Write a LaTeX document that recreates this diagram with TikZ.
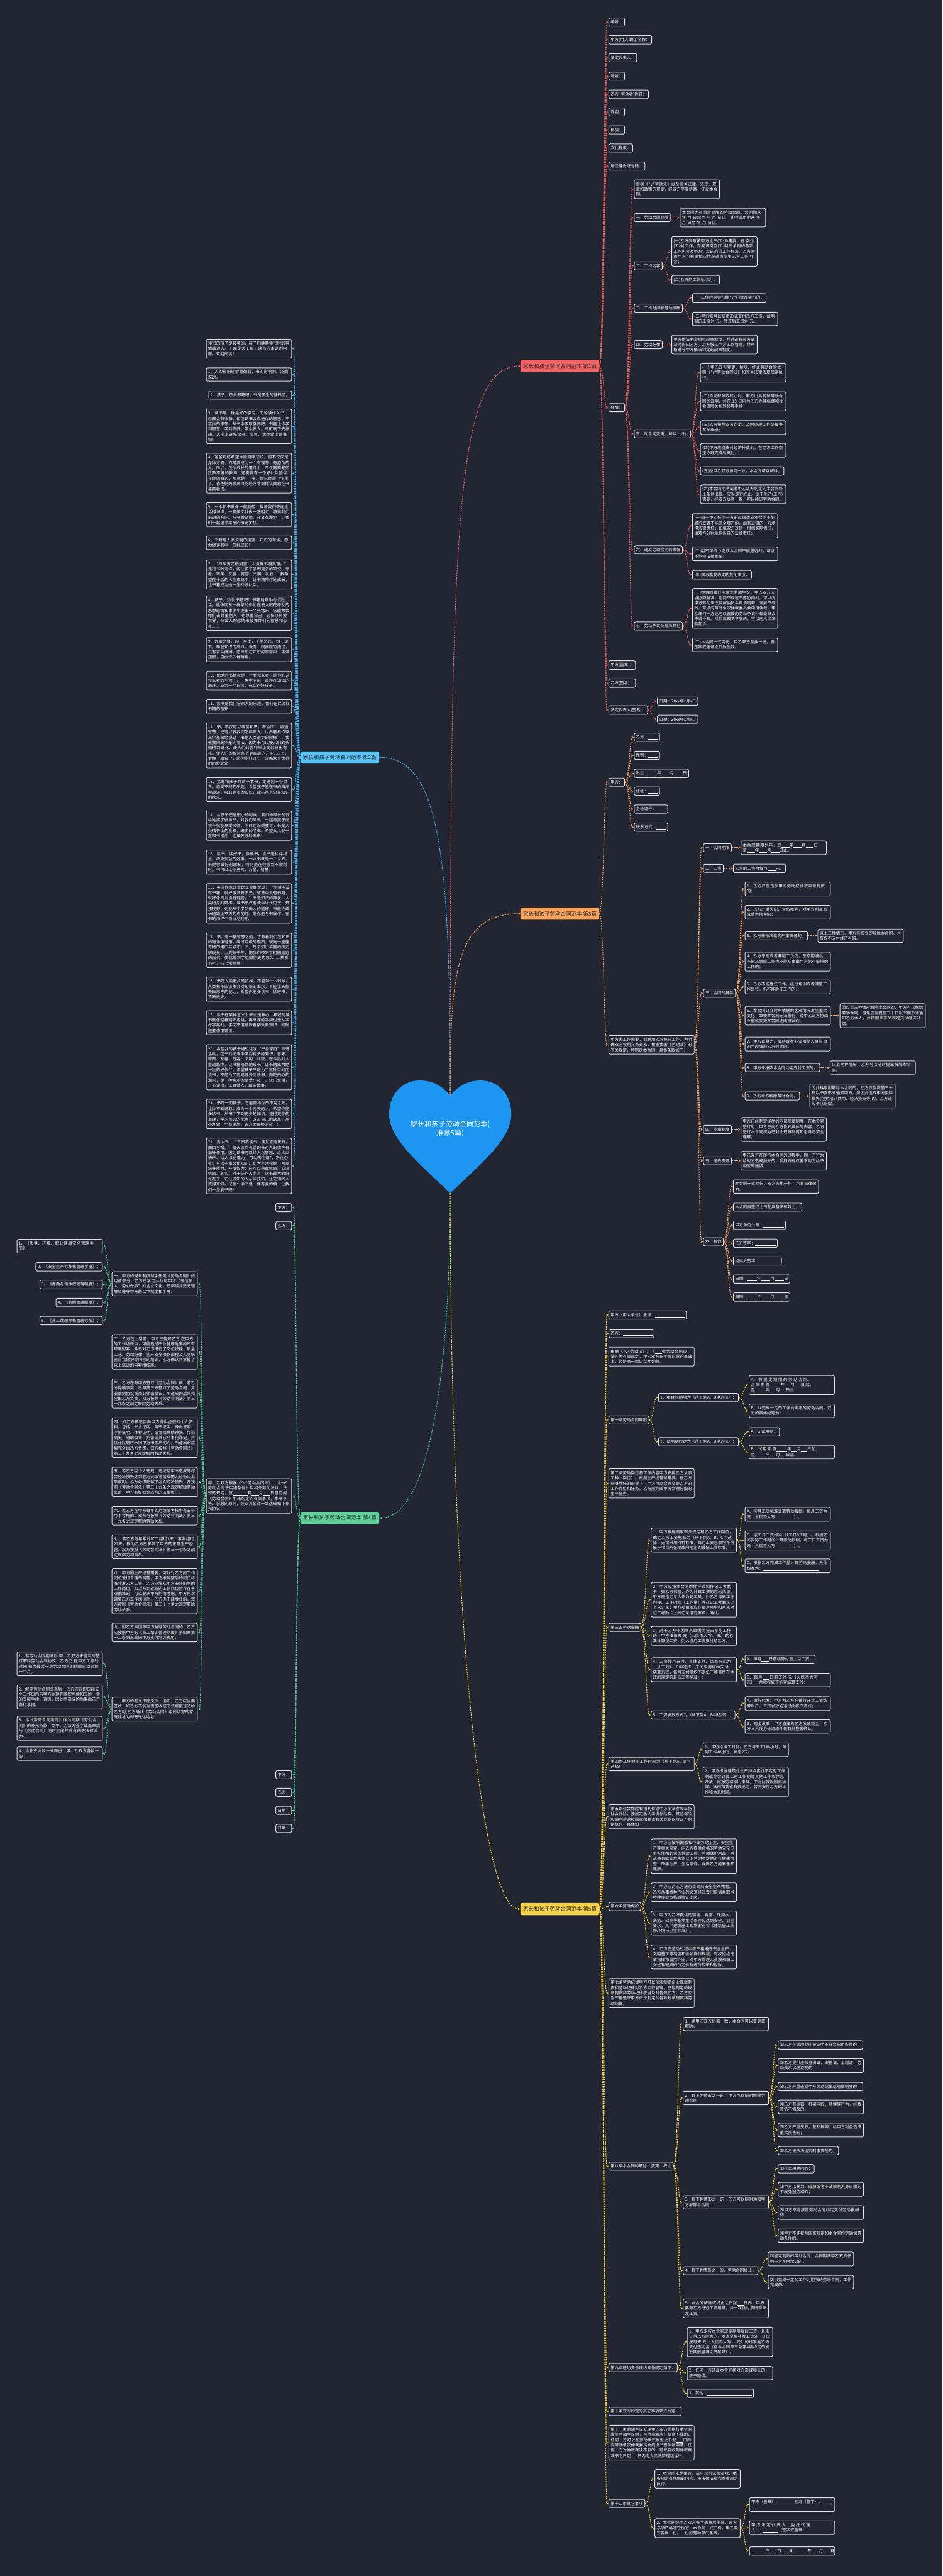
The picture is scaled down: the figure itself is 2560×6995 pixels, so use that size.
\documentclass[tikz,border=0pt]{standalone}
\usepackage{fontspec}
\setmainfont{Noto Sans CJK SC}
\usetikzlibrary{arrows.meta}
\XeTeXlinebreaklocale "zh"
\XeTeXlinebreakskip = 0pt plus 1pt
\definecolor{bg}{RGB}{34,38,50}
\definecolor{bord}{RGB}{225,225,228}
\definecolor{cR}{RGB}{236,95,95}
\definecolor{cO}{RGB}{245,160,90}
\definecolor{cB}{RGB}{70,175,235}
\definecolor{cG}{RGB}{80,205,145}
\definecolor{cY}{RGB}{245,210,60}
\definecolor{lR}{RGB}{242,100,100}
\definecolor{lO}{RGB}{248,165,95}
\definecolor{lB}{RGB}{90,195,245}
\definecolor{lG}{RGB}{95,210,155}
\definecolor{lY}{RGB}{247,210,75}
\definecolor{labtxt}{RGB}{40,40,48}
\definecolor{heartc}{RGB}{28,150,240}
\newcommand\hv{\textasciicircum v\textasciicircum}
\newcommand\blk[1]{\rule[-1.5pt]{#1pt}{0.7pt}}
\newcommand\conR[3]{\draw[cn=#1] (#2.east) .. controls +(12,0) and +(-12,0) .. (#3.west);}
\newcommand\conL[3]{\draw[cn=#1] (#2.west) .. controls +(-12,0) and +(12,0) .. (#3.east);}
\tikzset{
  bx/.style={draw=bord, line width=1.6pt, rounded corners=4pt, fill=bg, text=white,
    font=\fontsize{11}{14.3}\selectfont, inner xsep=5pt, inner ysep=6pt, align=left},
  wb/.style={bx, text width=222pt},
  aw/.style={anchor=west},
  ae/.style={anchor=east},
  lab/.style={rounded corners=4pt, font=\fontsize{14.5}{17}\selectfont, text=labtxt,
    inner xsep=7pt, inner ysep=3pt, minimum height=33pt},
  cn/.style={draw=#1, line width=1.8pt, dash pattern=on 4pt off 2.5pt,
    -{Stealth[length=7pt,width=6pt]}},
}
\begin{document}
\begin{tikzpicture}[x=1pt,y=-1pt]
\fill[bg] (0,0) rectangle (2560,6995);
\useasboundingbox (0,0) rectangle (2560,6995);
% heart
\fill[heartc] (1223,2975) .. controls (1250,2942) and (1280,2934) .. (1306,2934)
  .. controls (1356,2934) and (1389,2975) .. (1389,3025)
  .. controls (1389,3095) and (1300,3165) .. (1223,3240)
  .. controls (1146,3165) and (1057,3095) .. (1057,3025)
  .. controls (1057,2975) and (1090,2934) .. (1140,2934)
  .. controls (1166,2934) and (1196,2942) .. (1223,2975) -- cycle;
\node[font=\fontsize{19}{25}\selectfont, text=white, align=center] (root) at (1223,3065) {家长和孩子劳动合同范本(\\推荐5篇)};
\coordinate (ht) at (1223,2975);
\coordinate (hb) at (1223,3240);

% ================= Branch 1 (red)
\node[lab,fill=lR,ae] (r0) at (1628,994) {家长和孩子劳动合同范本 第1篇};
\node[bx,aw] (r1) at (1653,60) {编号：};
\node[bx,aw] (r2) at (1653,108) {甲方(用人单位)名称：};
\node[bx,aw] (r3) at (1653,157) {法定代表人：};
\node[bx,aw] (r4) at (1653,207) {地址：};
\node[bx,aw] (r5) at (1653,256) {乙方 (劳动者)姓名：};
\node[bx,aw] (r6) at (1653,304) {性别：};
\node[bx,aw] (r7) at (1653,353) {民族：};
\node[bx,aw] (r8) at (1653,402) {文化程度：};
\node[bx,aw] (r9) at (1653,451) {居民身份证号码：};
\node[bx,aw] (r10) at (1653,1107) {住址：};
\node[bx,aw] (r11) at (1653,1806) {甲方(盖章)：};
\node[bx,aw] (r12) at (1653,1855) {乙方(签名)：};
\node[bx,aw] (r13) at (1653,1928) {法定代表人(签名)：};
\node[bx,aw] (r13a) at (1785,1904) {日期：20xx年x月x日};
\node[bx,aw] (r13b) at (1785,1953) {日期：20xx年x月x日};
\node[wb,aw] (s1) at (1722,514) {根据《\hv 劳动法》以及有关法律、法规、规章和政策的规定，经双方平等协商，订立本合同。};
\node[bx,aw] (s2) at (1722,591) {一、劳动合同期限};
\node[wb,aw] (s2a) at (1847,591) {本合同为有固定期限的劳动合同。合同期从 年 月 日起至 年 月 日止。其中试用期从 年 月 日至 年 月 日止。};
\node[bx,aw] (s3) at (1722,722) {二、工作内容};
\node[wb,aw] (s3a) at (1824,683) {(一)乙方同意按甲方生产(工作)需要，在 岗位(工种)工作，完成该岗位(工种)所承担的各项工作内容及甲方订立的岗位工作标准。乙方同意甲方可根据相应情况适当变更乙方工作内容；};
\node[bx,aw] (s3b) at (1824,760) {(二)乙方的工作地点为 。};
\node[bx,aw] (s4) at (1722,837) {三、工作时间和劳动报酬};
\node[bx,aw] (s4a) at (1880,809) {(一)工作时间实行经\hv 门批准实行的；};
\node[wb,aw] (s4b) at (1880,866) {(二)甲方每月以货币形式支付乙方工资，试用期的工资为 元。转正后工资为 元。};
\node[bx,aw] (s5) at (1722,936) {四、劳动纪律};
\node[wb,aw] (s5a) at (1824,936) {甲方依法制定单位规章制度，并通过有效方式及时告知乙方。乙方服从甲方工作管理，并严格遵守甲方依法制定的规章制度。};
\node[bx,aw] (s6) at (1722,1178) {五、动合同变更、解除、终止};
\node[wb,aw] (s6a) at (1902,1012) {(一) 甲乙双方变更、解除、终止劳动合同依照《\hv 劳动合同法》和有关法律法规规定执行；};
\node[wb,aw] (s6b) at (1902,1090) {(二)合同解除或终止时，甲方出具解除劳动合同的证明，并在 15 日内为乙方办理档案和社会保险关系转移等手续；};
\node[wb,aw] (s6c) at (1902,1161) {(三)乙方按照双方约定，及时办理工作交接等有关手续；};
\node[wb,aw] (s6d) at (1902,1223) {(四)甲方应当支付经济补偿的，在乙方工作交接办理完成后支付；};
\node[bx,aw] (s6e) at (1902,1279) {(五)经甲乙双方协商一致，本合同可以解除；};
\node[wb,aw] (s6f) at (1902,1342) {(六)本合同期满或者甲乙双方约定的本合同终止条件出现，应当即行终止。由于生产(工作)需要，经双方协商一致，可以续订劳动合同。};
\node[bx,aw] (s7) at (1722,1493) {六、违反劳动合同的责任};
\node[wb,aw] (s7a) at (1880,1428) {(一)由于甲乙任何一方的过错造成本合同不能履行或者不能完全履行的，由有过错的一方承担法律责任；如属双方过错，根据实际情况，由双方分别承担各自的法律责任；};
\node[wb,aw] (s7b) at (1880,1504) {(二)因不可抗力造成本合同不能履行的，可以不承担法律责任；};
\node[bx,aw] (s7c) at (1880,1561) {(三)双方需要约定的其他事项：};
\node[bx,aw] (s8) at (1722,1700) {七、劳动争议处理及其他};
\node[wb,aw] (s8a) at (1880,1652) {(一)本合同履行中发生劳动争议，甲乙双方应当协商解决，协商不成或不愿协商的，可以向甲方劳动争议调解委员会申请调解；调解不成的，可以向劳动争议仲裁委员会申请仲裁。甲乙任何一方也可以直接向劳动争议仲裁委员会申请仲裁。对仲裁裁决不服的，可以向人民法院起诉。};
\node[wb,aw] (s8b) at (1880,1751) {(二)本合同一式两份，甲乙双方各执一份，自签字或盖章之日后生效。};

% ================= Branch 3 (orange)
\node[lab,fill=lO,ae] (o0) at (1628,2481) {家长和孩子劳动合同范本 第3篇};
\node[bx,aw] (o1) at (1653,2124) {甲方：};
\node[bx,aw] (o1a) at (1722,2002) {乙方：\blk{26}};
\node[bx,aw] (o1b) at (1722,2051) {性别：\blk{26}};
\node[bx,aw] (o1c) at (1722,2100) {出生：\blk{24}年\blk{24}月\blk{24}日};
\node[bx,aw] (o1d) at (1722,2148) {住址：\blk{26}};
\node[bx,aw] (o1e) at (1722,2197) {身份证号：\blk{26}};
\node[bx,aw] (o1f) at (1722,2246) {联系方式：\blk{26}};
\node[wb,aw] (o2) at (1653,2837) {甲方因工作需要，拟聘用乙方担任工作，为明确双方权利义务关系，根据我国《劳动法》的有关规定，特制定本合同，具体条款如下：};
\node[bx,aw] (p1) at (1910,2302) {一、合同期限};
\node[wb,aw] (p1a) at (2012,2302) {本合同期限为年，即\blk{22}年\blk{22}月\blk{22}日至\blk{22}年\blk{22}月\blk{22}日止。};
\node[bx,aw] (p2) at (1910,2358) {二、工资};
\node[bx,aw] (p2a) at (1991,2358) {乙方的工资为每月\blk{22}元。};
\node[bx,aw] (p3) at (1910,2697) {三、合同的解除};
\node[wb,aw] (q1) at (2023,2414) {1、乙方严重违反甲方劳动纪律或规章制度的；};
\node[wb,aw] (q2) at (2023,2477) {2、乙方严重失职、营私舞弊，对甲方利益造成重大损害的；};
\node[bx,aw] (q3) at (2023,2541) {3、乙方被依法追究刑事责任的。};
\node[wb,aw] (q3a) at (2221,2541) {以上三种情形，甲方有权立即解除本合同，并有权不支付经济补偿。};
\node[wb,aw] (q4) at (2023,2611) {4、乙方患病或者非因工负伤，医疗期满后，不能从事原工作也不能从事由甲方另行安排的工作的；};
\node[wb,aw] (q5) at (2023,2680) {5、乙方不能胜任工作，经过培训或者调整工作岗位，仍不能胜任工作的；};
\node[wb,aw] (q6) at (2023,2758) {6、本合同订立时所依据的客观情况发生重大变化，致使本合同无法履行，经甲乙双方协商不能就变更本合同达成协议的。};
\node[wb,aw] (q6a) at (2281,2758) {因以上三种情形解除本合同的，甲方可以解除劳动合同，但是应当提前三十日以书面形式通知乙方本人，并按国家有关规定支付经济补偿。};
\node[wb,aw] (q7) at (2023,2835) {7、甲方以暴力、威胁或者非法限制人身自由的手段强迫乙方劳动的；};
\node[bx,aw] (q8) at (2023,2899) {8、甲方未按照本合同约定支付工资的。};
\node[wb,aw] (q8a) at (2254,2899) {以上两种情形，乙方可以随时提出解除本合同。};
\node[bx,aw] (q9) at (2023,2976) {9、乙方单方解除劳动合同。};
\node[wb,aw] (q9a) at (2199,2976) {因此种原因解除本合同的，乙方应当提前三十日以书面形式通知甲方，如因此造成甲方实际损失(包括培训费用、经济损失等)的，乙方还应予以赔偿。};
\node[bx,aw] (p4) at (1910,3067) {四、规章制度};
\node[wb,aw] (p4a) at (2012,3067) {甲方已经制定详尽的内部规章制度，在本合同签订时，甲方已向乙方告知具体的内容，乙方签订本合同视为已对此规章制度知悉并已完全理解。};
\node[bx,aw] (p5) at (1910,3152) {五、违约责任};
\node[wb,aw] (p5a) at (2012,3152) {甲乙双方在履行本合同的过程中，因一方行为给对方造成损失的，受损方有权要求对方给予相应的赔偿。};
\node[bx,aw] (p6) at (1910,3372) {六、其他};
\node[wb,aw] (t1) at (1991,3222) {本合同一式两份，双方各执一份，均具法律效力。};
\node[bx,aw] (t2) at (1991,3278) {本合同自签订之日起具备法律效力。};
\node[bx,aw] (t3) at (1991,3327) {甲方单位公章：\blk{55}};
\node[bx,aw] (t4) at (1991,3376) {乙方签字：\blk{55}};
\node[bx,aw] (t5) at (1991,3424) {经办人签字：\blk{55}};
\node[bx,aw] (t6) at (1991,3473) {日期：\blk{26}年\blk{26}月\blk{26}日};
\node[bx,aw] (t7) at (1991,3522) {日期：\blk{26}年\blk{26}月\blk{26}日};

% ================= Branch 5 (yellow)
\node[lab,fill=lY,ae] (y0) at (1628,5184) {家长和孩子劳动合同范本 第5篇};
\node[bx,aw] (y1) at (1653,3571) {甲方（用人单位）全称：\blk{80}};
\node[bx,aw] (y2) at (1653,3621) {乙方：\blk{80}};
\node[wb,aw] (y3) at (1653,3684) {根据《\hv 劳动法》、《\blk{18}省劳动合同办法》等有关规定，甲乙双方在平等自愿的基础上，经协商一致订立本合同。};
\node[bx,aw] (y4) at (1653,3856) {第一条劳动合同期限};
\node[bx,aw] (y4a) at (1788,3795) {1、本合同期限为（从下列A、B中选择）：};
\node[wb,aw] (y4a1) at (2034,3761) {A、有固定期限的劳动合同。合同期自\blk{30}年\blk{16}月\blk{16}日起，至\blk{30}年\blk{16}月\blk{16}日止；};
\node[wb,aw] (y4a2) at (2034,3831) {B、以完成一定的工作为期限的劳动合同。双方的具体约定为：};
\node[bx,aw] (y4b) at (1788,3915) {2、试用期约定为（从下列A、B中选择）：};
\node[bx,aw] (y4b1) at (2034,3888) {A、无试用期；};
\node[wb,aw] (y4b2) at (2034,3943) {B、试用期自\blk{30}年\blk{16}月\blk{16}日起，至\blk{30}年\blk{16}月\blk{16}日止。};
\node[wb,aw] (y5) at (1653,4028) {第二条劳动岗位和工作内容甲方安排乙方从事工种（岗位）。根据生产经营和需要，在乙方能够胜任的前提下，甲方可以合理变更乙方的工作岗位和任务。乙方应完成甲方合理分配的生产任务。};
\node[bx,aw] (y6) at (1653,4419) {第三条劳动报酬};
\node[wb,aw] (y6a) at (1768,4182) {1、甲方根据国家有关规定和乙方工作岗位，确定乙方工资标准为（从下列A、B、C中选择；无论采用何种标准，每月工资总额均不得低于项目所在地政府规定的最低工资标准）：};
\node[wb,aw] (y6a1) at (2023,4112) {A、按月工资标准计算劳动报酬。每月工资为 元（人民币大写：\blk{40}）；};
\node[wb,aw] (y6a2) at (2023,4183) {B、按工日工资标准（1工日8工时）、根据乙方实际工作时间计算劳动报酬，每工日工资为 元（人民币大写：\blk{40}）；};
\node[wb,aw] (y6a3) at (2023,4252) {C、根据乙方完成工作量计算劳动报酬，具体标准为：\blk{150}};
\node[wb,aw] (y6b) at (1768,4344) {2、甲方应按本合同附件样式制作记工考勤卡，交乙方保管，作为计算工资的原始凭证。甲方应指定专人作为记工员，对乙方每天工作内容、工作时间（工作量）等在记工考勤卡上予以记录；甲方项目部应在每月月中和月末对记工考勤卡上的记录进行审核、确认。};
\node[wb,aw] (y6c) at (1768,4442) {3、对于乙方非因本人原因而全天不能工作的，甲方按每天 元（人民币大写： 元）的标准计算误工费，列入当月工资支付给乙方。};
\node[wb,aw] (y6d) at (1768,4534) {4、工资按月支付，具体支付、结算方式为（从下列A、B中选择；无论采用何种支付、结算方式，每月支付额均不得低于项目所在地政府规定的最低工资标准）：};
\node[bx,aw] (y6d1) at (2023,4506) {A、每月\blk{20}日前结算付清上月工资；};
\node[wb,aw] (y6d2) at (2023,4562) {B、每月\blk{20}日前支付 元（人民币大写： 元），余款按如下约定结算支付：};
\node[bx,aw] (y6e) at (1768,4657) {5、工资发放方式为（从下列A、B中选择）：};
\node[wb,aw] (y6e1) at (2023,4626) {A、银行代发：甲方为乙方在银行开立工资结算账户，工资发放均通过此帐户进行；};
\node[wb,aw] (y6e2) at (2023,4688) {B、现金发放：甲方直接向乙方发放现金，乙方本人凭身份证原件领取并签名确认。};
\node[wb,aw] (y7) at (1653,4790) {第四条工作时间工作时间为（从下列A、B中选择）：};
\node[wb,aw] (y7a) at (1909,4751) {1、实行标准工时制。乙方每天工作8小时，每周工作40小时，休息2天。};
\node[wb,aw] (y7b) at (1909,4838) {2、甲方根据建筑业生产特点实行不定时工作制或综合计算工时工作制等其他工作和休息办法，需报劳动部门审批。甲方应按照国家法律、法规和我省有关规定，合同安排乙方的工作和休息时间。};
\node[wb,aw] (y8) at (1653,4933) {第五条社会保险和福利待遇甲方依法参加工伤社会保险，按规定缴纳工伤保险费。其他保险和福利待遇按国家和我省有关规定以及双方约定执行，具体如下：};
\node[bx,aw] (y9) at (1653,5177) {第六条劳动保护};
\node[wb,aw] (y9a) at (1768,5040) {1、甲方应按照国家和行业劳动卫生、安全生产等相关规定，向乙方提供合格的劳动安全卫生条件和必需的劳动工具、劳动保护用品，对从事有职业危害作业的劳动者定期进行健康检查，改善生产、生活条件，保障乙方的安全和健康。};
\node[wb,aw] (y9b) at (1768,5138) {2、甲方应对乙方进行上岗前安全生产教育。乙方从事特种作业的必须经过专门培训并取得特种作业资格后持证上岗。};
\node[wb,aw] (y9c) at (1768,5222) {3、甲方为乙方提供的宿舍、食堂、饮用水、洗浴、公厕等基本生活条件应达到安全、卫生要求，其中建筑施工现场要符合《建筑施工现场环境与卫生标准》。};
\node[wb,aw] (y9d) at (1768,5314) {4、乙方在劳动过程中应严格遵守安全生产、文明施工等制度和各项操作规程，有权拒绝违章指挥和冒险作业，对甲方管理人员漠视职工安全和健康的行为有权进行检举和控告。};
\node[wb,aw] (y10) at (1653,5412) {第七条劳动纪律甲方可以依法制定企业规章制度和劳动纪律对乙方实行管理，已经制定的规章制度和劳动纪律应当及时告知乙方。乙方应当严格遵守甲方依法制定的各项规章制度和劳动纪律。};
\node[bx,aw] (y11) at (1653,5882) {第八条本合同的解除、变更、终止};
\node[wb,aw] (y11a) at (1855,5496) {1、经甲乙双方协商一致，本合同可以变更或解除。};
\node[wb,aw] (y11b) at (1855,5697) {2、有下列情形之一的，甲方可以随时解除劳动合同：};
\node[bx,aw] (y11b1) at (2113,5553) {⑴乙方在试用期间被证明不符合招用条件的；};
\node[wb,aw] (y11b2) at (2113,5609) {⑵乙方提供虚假身份证、资格证、上岗证、劳动关系状况证明的；};
\node[bx,aw] (y11b3) at (2113,5666) {⑶乙方严重违反甲方劳动纪律或规章制度的；};
\node[wb,aw] (y11b4) at (2113,5721) {⑷乙方有偷窃、打架斗殴、赌博等行为，经教育仍不悔改的；};
\node[wb,aw] (y11b5) at (2113,5784) {⑸乙方严重失职，营私舞弊，给甲方利益造成重大损害的；};
\node[bx,aw] (y11b6) at (2113,5840) {⑹乙方被依法追究刑事责任的。};
\node[wb,aw] (y11c) at (1855,5980) {3、有下列情形之一的，乙方可以随时通知甲方解除本合同：};
\node[bx,aw] (y11c1) at (2113,5889) {⑴在试用期内的；};
\node[wb,aw] (y11c2) at (2113,5945) {⑵甲方以暴力、威胁或者非法限制人身自由的手段强迫劳动的；};
\node[wb,aw] (y11c3) at (2113,6008) {⑶甲方不能按照劳动合同约定支付劳动报酬的；};
\node[wb,aw] (y11c4) at (2113,6071) {⑷甲方不能按照国家规定和本合同约定确保劳动条件的。};
\node[bx,aw] (y11d) at (1855,6166) {4、有下列情形之一的，劳动合同终止：};
\node[wb,aw] (y11d1) at (2086,6134) {⑴固定期限的劳动合同，合同期满甲乙双方任何一方不再续订的；};
\node[wb,aw] (y11d2) at (2086,6197) {⑵以完成一定的工作为期限的劳动合同，工作完成的。};
\node[wb,aw] (y11e) at (1855,6268) {5、本合同解除或终止之日起\blk{18}日内，甲方要与乙方进行工资结算，并一次性付清所有未发工资。};
\node[bx,aw] (y12) at (1653,6429) {第九条违约责任违约责任规定如下：};
\node[wb,aw] (y12a) at (1866,6359) {1、甲方未按本合同规定期限发放工资，且未征得乙方同意的，除须全额补发工资外，还应按每天 元（人民币大写： 元）的标准向乙方支付违约金（自本合同第三条第4项约定的发放期限届满之日起算）。};
\node[wb,aw] (y12b) at (1866,6444) {2、任何一方违反本合同给对方造成损失的，应予赔偿。};
\node[bx,aw] (y12c) at (1866,6499) {3、其他：\blk{120}};
\node[bx,aw] (y13) at (1653,6548) {第十条双方约定的其它事项双方约定：};
\node[wb,aw] (y14) at (1653,6633) {第十一条劳动争议处理甲乙双方因执行本合同发生劳动争议时，可协商解决；协商不成的，任何一方可以在劳动争议发生之日起\blk{18}日内向劳动争议仲裁委员会提出书面仲裁申请。任何一方对仲裁裁决不服的，可以自收到仲裁裁决书之日起\blk{18}日内向人民法院提起诉讼。};
\node[bx,aw] (y15) at (1653,6798) {第十二条其它事项};
\node[wb,aw] (y15a) at (1778,6731) {1、本合同未尽事宜，或与现行法律法规、本省规定有抵触的内容，按法律法规和本省规定执行。};
\node[wb,aw] (y15b) at (1778,6865) {2、本合同经甲乙双方签字盖章后生效，双方必须严格遵守执行。本合同一式三份，甲乙双方各执一份，一份报劳动部门备案。};
\node[wb,aw] (y15b1) at (2035,6801) {甲方（盖章）：\blk{40}乙方（签字）：\blk{28} \blk{12}};
\node[wb,aw] (y15b2) at (2035,6864) {甲方法定代表人（委托代理人）：\blk{40}（签字或盖章）};
\node[wb,aw] (y15b3) at (2035,6927) {\blk{40}年\blk{20}月\blk{20}日\blk{40}年\blk{20}月\blk{20}日};

% ================= Branch 2 (blue, left)
\node[lab,fill=lB,ae] (bL) at (1030,2057) {家长和孩子劳动合同范本 第2篇};
\node[wb,ae] (b0) at (793,947) {读书的孩子是最美的，孩子们静静读书时的神情最迷人。下面是关于孩子读书的寄语的内容，欢迎阅读！};
\node[wb,ae] (b1) at (793,1017) {1、人的影响短暂而微弱，书的影响则广泛而深远。};
\node[bx,ae] (b2) at (793,1073) {2、孩子，热爱书籍吧，书是学生的营养品。};
\node[wb,ae] (b3) at (793,1158) {3、读书是一种最好的学习，无论读什么书，你都会有收获。相信读书会启迪你的智慧，丰富你的思想，从书中汲取营养吧，书能让你学到智慧，学到修养，学会做人。鸟欲高飞先振翅，人求上进先读书。宝贝，请你爱上读书吧！};
\node[wb,ae] (b4) at (793,1285) {4、爸爸妈妈希望你能健康成长，但不仅仅是身体方面，而是要成为一个有理想、有抱负的人。所以，在你成长的道路上，不仅需要老师孜孜不倦的教诲，还需要有一个好伙伴陪伴在你的身边，那就是——书。你已经是小学生了，爸爸妈妈很高兴能经常看到你认真地在书桌前看书。};
\node[wb,ae] (b5) at (793,1398) {5、一本新书就像一艘航船，载着我们驶向生活得海洋；一篇美文就像一盏明灯，照亮我们前进的方向。与书香结缘，在文苑漫步，让我们一起追寻幸福的阳光梦想。};
\node[wb,ae] (b6) at (793,1474) {6、书籍是人类文明的摇篮，知识的海洋，愿你徜徉其中，茁壮成长！};
\node[wb,ae] (b7) at (793,1560) {7、“蜂采百花酿甜蜜，人读群书明真理。”走进书的海洋，能让孩子学到更多的知识、思考、审美、友善、宽容、文明、礼貌......我希望在今后的人生道路中，让书籍陪伴她成长，让书籍成为她一生的好伙伴。};
\node[wb,ae] (b8) at (793,1665) {8、孩子，热爱书籍吧！书籍能帮助你们生活，能像朋友一样帮助你们在使人眼花缭乱的思想感情和事件中理出一个头绪来，它能教会你们去尊重别人，也尊重自己，它将以热爱世界，热爱人的感情来鼓舞你们的智慧和心灵......};
\node[wb,ae] (b9) at (793,1764) {9、九层之台，起于垒土，千里之行，始于足下，攀登知识的高峰，没有一蹴而蹴的捷径，只有奋斗拼搏。愿罗彤在知识的宇宙中，丰满翅膀，自由快乐地翱翔。};
\node[wb,ae] (b10) at (793,1848) {10、优秀的书籍就是一个智慧长者，愿你在这位长者的引领下，一步步向前，遨游在知识的海洋。成为一个自信、充实的好孩子。};
\node[wb,ae] (b11) at (793,1918) {11、读书是我们全家人的乐趣，我们在此汲取书籍的营养！};
\node[wb,ae] (b12) at (793,2024) {12、书，不仅可以丰富知识，陶冶情*，启迪智慧；还可以教我们怎样做人。世界著名作家高尔基曾经说过“书是人类进步的阶梯”，我很赞同高尔基的看法，因为书可以使人们的头脑得到进化，使人们的言行举止变的彬彬有礼，使人们的智慧有了更高层的升华......书，更像一扇窗户，愿你能打开它，领略大千世界的奇妙之处！};
\node[wb,ae] (b13) at (793,2144) {13、我愿和孩子共读一本书，走进同一个世界，感受不同的乐趣。希望孩子能在书的海洋中遨游，吸取更多的知识，能与别人分享知识的快乐。};
\node[wb,ae] (b14) at (793,2242) {14、从孩子还是很小的时候，我们做家长的就给她买了很多书，对我们来说，一起与孩子阅读不仅能享受亲情，同时也深受教育。书是人类精神上的食粮，进步的阶梯。希望女儿能一直和书相伴，迎接美好的未来！};
\node[wb,ae] (b15) at (793,2341) {15、读书，读好书，多读书。读书是相伴终生、终身受益的好事，一本书就是一个世界，书是你最好的朋友，特别是在你感到不顺利时，书可以给你勇气、力量、智慧。};
\node[wb,ae] (b16) at (793,2453) {16、英国作家莎士比亚曾经说过：“生活中没有书籍，就好像没有阳光，智慧中没有书籍，就好像鸟儿没有翅膀。”书是知识的源泉，人类进步的阶梯。读书不仅能使你增长见识，开拓视野，也能从中学到做人的道理，书是你成长道路上不灭的启明灯。愿你能与书做伴，在书的海洋中自由地翱翔。};
\node[wb,ae] (b17) at (793,2580) {17、书，是一艘智慧之船，它载着我们在知识的海洋中遨游，绕过险峻的礁石，驶向一座座奇特的港口与城市；书，是个知识丰富的历史解说员，上溯数千年，把我们带到了祖国遥远的古代，使我看到了祖国历史的悠久......热爱书吧，与书常相伴！};
\node[wb,ae] (b18) at (793,2686) {18、书是人类进步的阶梯，不管到什么时候，人类都不应该放弃对知识的渴求，不能让头脑丧失思考的能力，希望你能多读书，读好书，不断进步。};
\node[wb,ae] (b19) at (793,2777) {19、读书在某种意义上来说是养心，年轻时读书就像迎着朝阳走路，再高深的学问也是从字母学起的。学习不但意味着接受新知识，同时还要修正错误。};
\node[wb,ae] (b20) at (793,2898) {20、希望我的孩子通过这次“书香家庭”评选活动，在书的海洋中学到更多的知识、思考、审美、友善、宽容、文明、礼貌，在今后的人生道路中，让书籍陪伴她成长，让书籍成为她一生的好伙伴。希望孩子不是为了某种目的而读书，不是为了完成任务而读书。而是内心的渴求，是一种快乐的享受！孩子，快乐生活，开心读书，认真做人，踏实做事。};
\node[wb,ae] (b21) at (793,3025) {21、书是一面镜子，它能照出你的不足之处，让你不断进取，成为一个完美的人。希望你能多读书，从书中学到更多的知识，懂得更多的道理，学习别人的优点，改正自己的缺点，从小九做一个有理想，各方面都棒的孩子！};
\node[wb,ae] (b22) at (793,3166) {22、古人云：“三日不读书，便觉言语无味，面目可憎。”每天读点有益的书对人的精神有滋补作用。因为读书可以给人以智慧、给人以快乐、给人以创造力；可以陶冶情*、净化心灵；可以丰富文化知识、扩大生活视野；可以培养能力、开发智力；还可以获取信息、交流信息。其实，对于任何人而言，读书最大的好处在于：它让求知的人从中获知，让无知的人变得有知。记住：读书是一件有益的事，让我们一生爱书吧！};

% ================= Branch 4 (green, left)
\node[lab,fill=lG,ae] (gL) at (1030,4122) {家长和孩子劳动合同范本 第4篇};
\node[bx,ae] (g1) at (793,3279) {甲方：};
\node[bx,ae] (g2) at (793,3328) {乙方：};
\node[wb,ae] (g3) at (793,4062) {甲、乙双方根据《\hv 劳动合同法》、《\hv 劳动合同法实施条例》及相关劳动法律、法规的规定，就\blk{40}年\blk{20}月\blk{20}日签订的《劳动合同》中未约定的有关事项，本着平等、自愿的原则，经双方协商一致达成如下补充协议：};
\node[bx,ae] (g4) at (793,4819) {甲方：};
\node[bx,ae] (g5) at (793,4867) {乙方：};
\node[bx,ae] (g6) at (793,4916) {日期：};
\node[bx,ae] (g7) at (793,4965) {日期：};
\node[wb,ae] (h1) at (537,3486) {一、甲方的规章制度和手册是《劳动合同》的组成部分，乙方已学习并认可甲方“诚信做人、用心做事”的企业文化，已阅读并充分理解和遵守甲方的以下制度和手册：};
\node[wb,ae] (h2) at (537,3671) {二、乙方在上岗前，甲方已告知乙方:在甲方的工作场所中，可能造成职业健康危害的所有环境因素；并已对乙方进行了岗位技能、质量工艺、劳动纪律、生产安全操作规程及人身伤害自我保护等内容的培训，乙方确认并掌握了以上培训的内容和技能。};
\node[wb,ae] (h3) at (537,3784) {三、乙方在与甲方签订《劳动合同》前，若乙方隐瞒事实，已与第三方签订了劳动合同、竞业限制协议或商业保密协议，所造成的后果完全由乙方负责，双方按照《劳动合同法》第三十九条之规定解除劳动关系。};
\node[wb,ae] (h4) at (537,3904) {四、如乙方被证实向甲方提供虚假的个人资料，包括：失业证明、离职证明、身份证明、学历证明、体检证明，或者隐瞒精神病、传染病史，隐瞒吸毒、拘留或其它刑事犯罪史，并且在应聘时未向甲方书面声明的。所造成的后果完全由乙方负责，双方按照《劳动合同法》第三十九条之规定解除劳动关系。};
\node[wb,ae] (h5) at (537,4024) {五、若乙方因个人违规、违纪给甲方造成的综合经济损失达到壹万元或者造成他人轻伤以上事故的，乙方必须赔偿甲方的经济损失，并按照《劳动合同法》第三十九条之规定解除劳动关系，甲方有权追究乙方的法律责任。};
\node[wb,ae] (h6) at (537,4116) {六、若乙方在甲方每年的月绩效考核中有五个月不合格的，双方可按照《劳动合同法》第三十九条之规定解除劳动关系。};
\node[wb,ae] (h7) at (537,4200) {七、若乙方每年累计旷工超过3天、事假超过22天，视为乙方已影响了甲方的正常生产经营，双方按照《劳动合同法》第三十七条之规定解除劳动关系。};
\node[wb,ae] (h8) at (537,4321) {八、甲方因生产经营需要，可以对乙方的工作岗位进行合理的调整，甲方按调整后的岗位标准计发乙方工资，乙方应服从甲方安排的新的工作岗位。如乙方到达新的工作岗位后存在客观困难的，可以要求甲方酌情考虑，甲方再次调整乙方工作岗位后，乙方仍不能胜任的，双方按照《劳动合同法》第三十七条之规定解除劳动关系。};
\node[wb,ae] (h9) at (537,4433) {九、因乙方原因与甲方解除劳动合同的，乙方应按照甲方的《员工培训管理制度》第四章第十二条第五款向甲方支付培训费用。};
\node[wb,ae] (h10) at (537,4641) {十、甲方的有关书面文件、通知，乙方应当面签收，如乙方不能当面签收或无法直接送达给乙方时,乙方确认《劳动合同》中所填写的家庭住址为邮寄送达地址。};
\node[wb,ae] (k1) at (279,3384) {1、《质量、环境、职业健康安全管理手册》；};
\node[bx,ae] (k2) at (279,3440) {2、《安全生产标准化管理手册》；};
\node[bx,ae] (k3) at (279,3488) {3、《考勤与请休假管理制度》；};
\node[bx,ae] (k4) at (279,3537) {4、《薪酬管理制度》；};
\node[bx,ae] (k5) at (279,3586) {5、《员工绩效考核管理标准》；};
\node[wb,ae] (m1) at (279,4518) {1、若劳动合同期满后,甲、乙双方未能及时签订解除劳动合同协议，乙方仍 在甲方工作的时间,视为最后一次劳动合同的期限自动延续一个月。};
\node[wb,ae] (m2) at (279,4608) {2、解除劳动合同关系后，乙方应在即日起五个工作日内与甲方办理完离职手续和五险一金的交接手续，否则，因此而造成的后果由乙方自行承担。};
\node[wb,ae] (m3) at (279,4693) {3、本《劳动合同附则》作为同期《劳动合同》的补充条款，经甲、乙双方签字或盖章后与《劳动合同》同时生效并具有同等法律效力。};
\node[wb,ae] (m4) at (279,4762) {4、本补充协议一式两份，甲、乙双方各执一份。};

% ================= connectors from heart
\draw[cn=cR] (ht) .. controls (1223,1450) and (1235,994) .. (r0.west);
\draw[cn=cB] (ht) .. controls (1223,2350) and (1200,2057) .. (bL.east);
\draw[cn=cO] (ht) .. controls (1223,2650) and (1235,2481) .. (o0.west);
\draw[cn=cG] (hb) .. controls (1223,3650) and (1180,4122) .. (gL.east);
\draw[cn=cY] (hb) .. controls (1223,4300) and (1300,5184) .. (y0.west);

% branch 1
\foreach \i in {1,...,13} {\conR{cR}{r0}{r\i}}
\foreach \n in {s1,s2,s3,s4,s5,s6,s7,s8} {\conR{cR}{r10}{\n}}
\conR{cR}{s2}{s2a}
\conR{cR}{s3}{s3a}
\conR{cR}{s3}{s3b}
\conR{cR}{s4}{s4a}
\conR{cR}{s4}{s4b}
\conR{cR}{s5}{s5a}
\foreach \n in {s6a,s6b,s6c,s6d,s6e,s6f} {\conR{cR}{s6}{\n}}
\foreach \n in {s7a,s7b,s7c} {\conR{cR}{s7}{\n}}
\conR{cR}{s8}{s8a}
\conR{cR}{s8}{s8b}
\conR{cR}{r13}{r13a}
\conR{cR}{r13}{r13b}

% branch 3
\conR{cO}{o0}{o1}
\conR{cO}{o0}{o2}
\foreach \n in {o1a,o1b,o1c,o1d,o1e,o1f} {\conR{cO}{o1}{\n}}
\foreach \n in {p1,p2,p3,p4,p5,p6} {\conR{cO}{o2}{\n}}
\conR{cO}{p1}{p1a}
\conR{cO}{p2}{p2a}
\foreach \i in {1,...,9} {\conR{cO}{p3}{q\i}}
\conR{cO}{q3}{q3a}
\conR{cO}{q6}{q6a}
\conR{cO}{q8}{q8a}
\conR{cO}{q9}{q9a}
\conR{cO}{p4}{p4a}
\conR{cO}{p5}{p5a}
\foreach \i in {1,...,7} {\conR{cO}{p6}{t\i}}

% branch 5
\foreach \i in {1,...,15} {\conR{cY}{y0}{y\i}}
\conR{cY}{y4}{y4a}
\conR{cY}{y4}{y4b}
\conR{cY}{y4a}{y4a1}
\conR{cY}{y4a}{y4a2}
\conR{cY}{y4b}{y4b1}
\conR{cY}{y4b}{y4b2}
\foreach \n in {y6a,y6b,y6c,y6d,y6e} {\conR{cY}{y6}{\n}}
\foreach \n in {y6a1,y6a2,y6a3} {\conR{cY}{y6a}{\n}}
\conR{cY}{y6d}{y6d1}
\conR{cY}{y6d}{y6d2}
\conR{cY}{y6e}{y6e1}
\conR{cY}{y6e}{y6e2}
\conR{cY}{y7}{y7a}
\conR{cY}{y7}{y7b}
\foreach \n in {y9a,y9b,y9c,y9d} {\conR{cY}{y9}{\n}}
\foreach \n in {y11a,y11b,y11c,y11d,y11e} {\conR{cY}{y11}{\n}}
\foreach \i in {1,...,6} {\conR{cY}{y11b}{y11b\i}}
\foreach \i in {1,...,4} {\conR{cY}{y11c}{y11c\i}}
\conR{cY}{y11d}{y11d1}
\conR{cY}{y11d}{y11d2}
\foreach \n in {y12a,y12b,y12c} {\conR{cY}{y12}{\n}}
\conR{cY}{y15}{y15a}
\conR{cY}{y15}{y15b}
\foreach \i in {1,2,3} {\conR{cY}{y15b}{y15b\i}}

% branch 2
\foreach \i in {0,...,22} {\conL{cB}{bL}{b\i}}

% branch 4
\foreach \i in {1,...,7} {\conL{cG}{gL}{g\i}}
\foreach \i in {1,...,10} {\conL{cG}{g3}{h\i}}
\foreach \i in {1,...,5} {\conL{cG}{h1}{k\i}}
\foreach \i in {1,...,4} {\conL{cG}{h10}{m\i}}
\end{tikzpicture}
\end{document}
